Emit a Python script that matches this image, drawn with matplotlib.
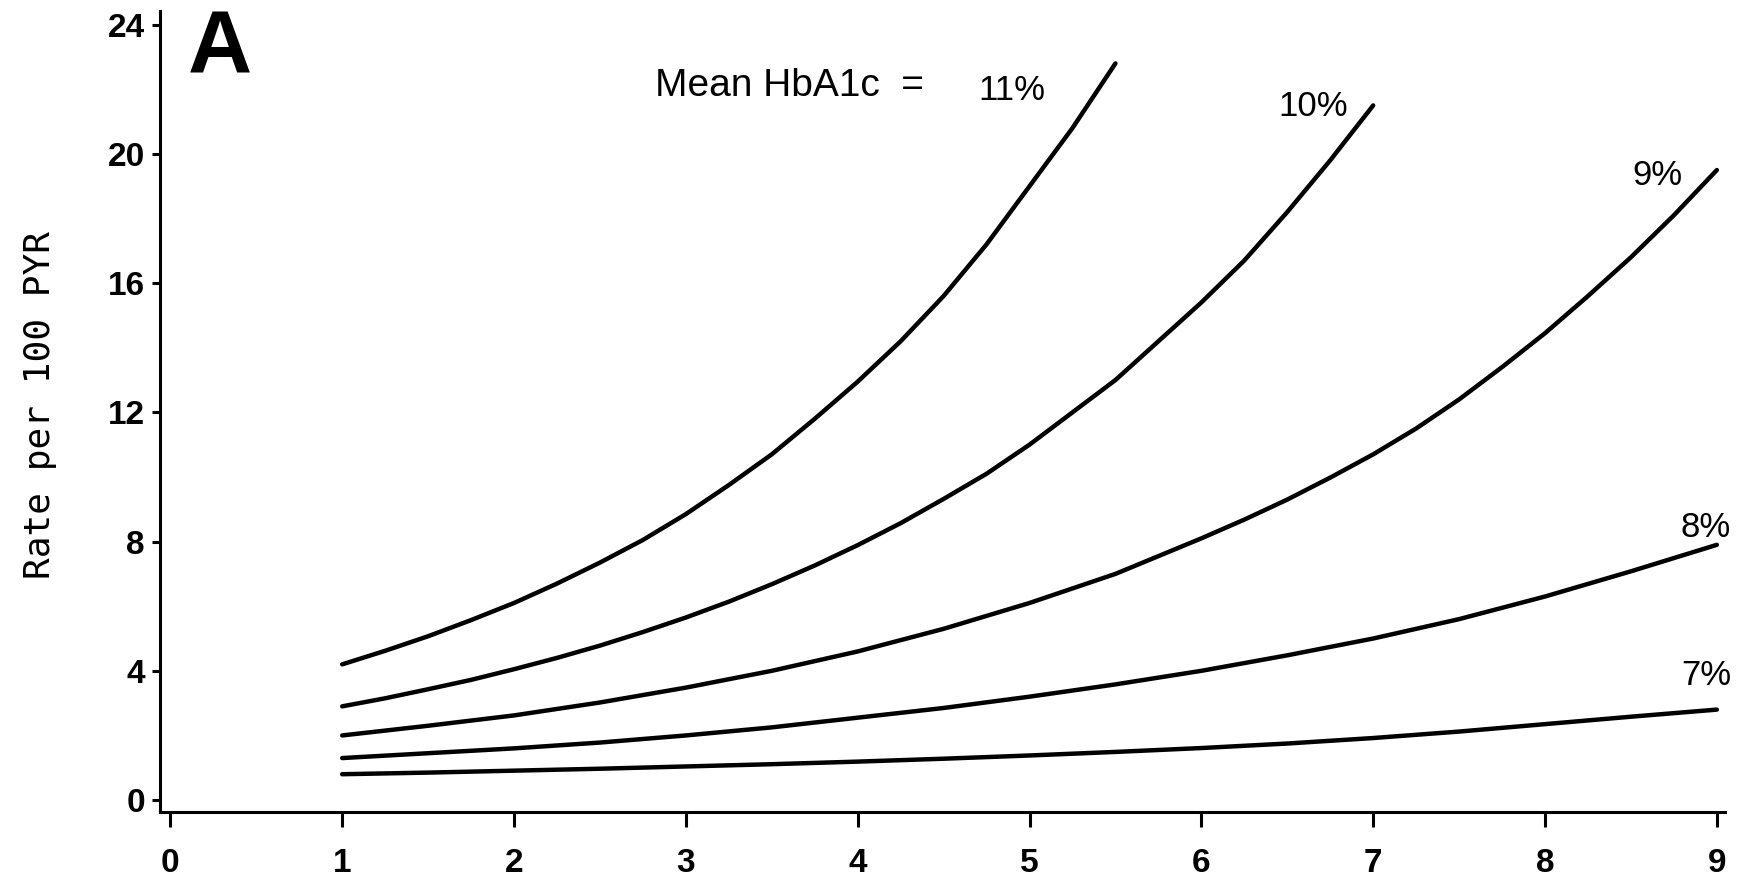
import matplotlib
matplotlib.use('Agg')
import matplotlib.pyplot as plt

# years of follow-up vs rate per 100 PYR
x_11 = [1, 1.25, 1.5, 1.75, 2, 2.25, 2.5, 2.75, 3, 3.25, 3.5, 3.75, 4, 4.25, 4.5, 4.75, 5, 5.25, 5.5]
rate_11 = [4.2, 4.62, 5.07, 5.57, 6.1, 6.7, 7.35, 8.05, 8.85, 9.75, 10.7, 11.8, 12.95, 14.2, 15.6, 17.2, 19.0, 20.8, 22.8]

x_10 = [1, 1.25, 1.5, 1.75, 2, 2.25, 2.5, 2.75, 3, 3.25, 3.5, 3.75, 4, 4.25, 4.5, 4.75,
        5, 5.25, 5.5, 5.75, 6, 6.25, 6.5, 6.75, 7]
rate_10 = [2.9, 3.15, 3.43, 3.72, 4.05, 4.4, 4.78, 5.2, 5.65, 6.14, 6.68, 7.26, 7.89, 8.57, 9.32, 10.1,
           11.0, 12.0, 13.0, 14.2, 15.4, 16.7, 18.2, 19.8, 21.5]

x_9 = [1, 1.5, 2, 2.5, 3, 3.5, 4, 4.5, 5, 5.5, 6, 6.25, 6.5, 6.75, 7, 7.25, 7.5, 7.75,
       8, 8.25, 8.5, 8.75, 9]
rate_9 = [2.0, 2.3, 2.62, 3.02, 3.48, 4.0, 4.6, 5.3, 6.1, 7.0, 8.1, 8.68, 9.3, 9.98, 10.7, 11.5, 12.4, 13.4,
          14.45, 15.6, 16.8, 18.1, 19.5]

x_low = [1, 1.5, 2, 2.5, 3, 3.5, 4, 4.5, 5, 5.5, 6, 6.5, 7, 7.5, 8, 8.5, 9]
rate_8 = [1.3, 1.45, 1.6, 1.78, 2.0, 2.25, 2.55, 2.85, 3.2, 3.58, 4.0, 4.48, 5.0, 5.6, 6.3, 7.08, 7.9]
rate_7 = [0.8, 0.85, 0.91, 0.97, 1.04, 1.11, 1.19, 1.28, 1.38, 1.49, 1.61, 1.75, 1.92, 2.12, 2.35, 2.58, 2.8]

curve_labels = ['11%', '10%', '9%', '8%', '7%']
label_x = [4.70, 6.45, 8.51, 8.79, 8.79]
label_y = [21.67, 21.18, 19.03, 8.13, 3.56]

x_ticks = [0, 1, 2, 3, 4, 5, 6, 7, 8, 9]
y_ticks = [0, 4, 8, 12, 16, 20, 24]

sans = ['Liberation Sans', 'DejaVu Sans']

fig = plt.figure(figsize=(17.51, 8.86), dpi=100)
ax = fig.add_axes([0.0914, 0.0835, 0.894, 0.904])

lw = 3.2
ax.plot(x_11, rate_11, color='black', lw=lw, solid_capstyle='round')
ax.plot(x_10, rate_10, color='black', lw=lw, solid_capstyle='round')
ax.plot(x_9, rate_9, color='black', lw=lw, solid_capstyle='round')
ax.plot(x_low, rate_8, color='black', lw=lw, solid_capstyle='round')
ax.plot(x_low, rate_7, color='black', lw=lw, solid_capstyle='round')

for lab, lx, ly in zip(curve_labels, label_x, label_y):
    ax.text(lx, ly, lab, ha='left', va='baseline', fontsize=25, family=sans)

ax.text(2.82, 21.8, 'Mean HbA1c  =', ha='left', va='baseline', fontsize=28, family=sans)
ax.text(0.10, 22.5, 'A', ha='left', va='baseline', fontsize=64, fontweight='heavy', family=sans)

ax.set_xlim(-0.06, 9.05)
ax.set_ylim(-0.37, 24.42)
ax.set_xticks(x_ticks)
ax.set_yticks(y_ticks)
ax.set_xticklabels([str(t) for t in x_ticks], fontsize=24, fontweight='bold', family=sans)
ax.set_yticklabels([str(t) for t in y_ticks], fontsize=24, fontweight='bold', family=sans)

ax.spines['top'].set_visible(False)
ax.spines['right'].set_visible(False)
ax.spines['left'].set_linewidth(2.2)
ax.spines['bottom'].set_linewidth(2.2)
ax.tick_params(axis='x', direction='out', length=11, width=2.2, pad=15)
ax.tick_params(axis='y', direction='out', length=6, width=2.2, pad=5)

fig.text(40 / 1751, 1 - 405 / 886, 'Rate per 100 PYR', rotation=90, ha='center', va='center',
         fontsize=26, family=['DejaVu Sans Mono', 'Liberation Mono'])

fig.savefig('out.png', dpi=100)
